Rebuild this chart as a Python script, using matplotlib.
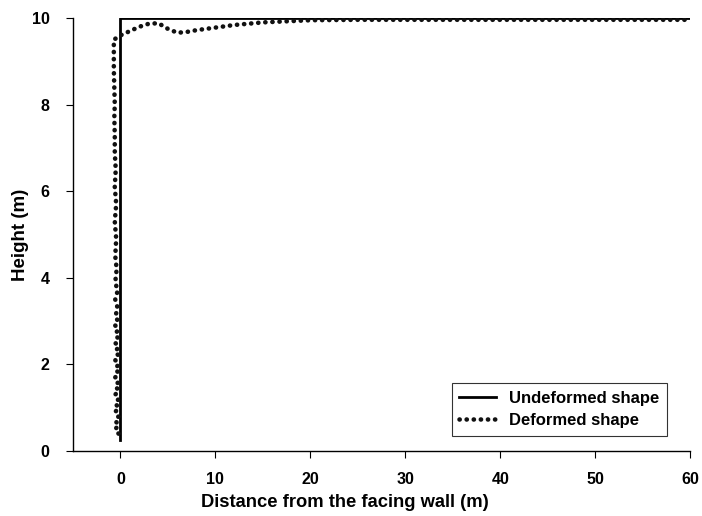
import matplotlib
matplotlib.use("Agg")
import matplotlib.pyplot as plt

plt.rcParams['font.family'] = ['Liberation Sans', 'DejaVu Sans']
plt.rcParams['font.weight'] = 'bold'

# Undeformed shape
undef_x = [0, 0, 60]
undef_y = [0.25, 10, 10]

# Deformed shape (lower part zig-zags densely)
def_x = [-0.2, -0.55, -0.2, -0.55, -0.2, -0.55, -0.2, -0.55, -0.2, -0.55, -0.2, -0.55, -0.2, -0.55,
         -0.2, -0.55, -0.2, -0.55, -0.2, -0.55, -0.2, -0.55, -0.25, -0.55, -0.25, -0.55, -0.25, -0.55,
         -0.3, -0.55, -0.3, -0.55, -0.4, -0.55, -0.45, -0.6, -0.45, -0.6, -0.5, -0.6,
         -0.6, -0.65, -0.6, -0.65, -0.7, -0.7, -0.7,
         0.0, 1.0, 2.0, 3.0, 4.0, 5.0, 6.0, 7.0, 8.0, 10.0, 12.0, 15.0, 18.0, 20.0, 25.0, 30.0, 40.0, 50.0, 60.0]
def_y = [0.4, 0.5, 0.6, 0.7, 0.8, 0.9, 1.0, 1.1, 1.2, 1.3, 1.4, 1.5, 1.6, 1.7,
         1.8, 1.9, 2.0, 2.1, 2.2, 2.3, 2.4, 2.5, 2.6, 2.7, 2.8, 2.9, 3.0, 3.1,
         3.3, 3.5, 3.7, 3.9, 4.2, 4.5, 4.9, 5.3, 5.7, 6.1, 6.5, 6.9,
         7.3, 7.7, 8.0, 8.4, 8.8, 9.2, 9.5,
         9.6, 9.7, 9.8, 9.87, 9.88, 9.75, 9.66, 9.68, 9.72, 9.78, 9.84, 9.9, 9.93, 9.95, 9.96, 9.96, 9.96, 9.96, 9.96]

fig = plt.figure(figsize=(7.02, 5.16), dpi=100)
ax = fig.add_axes([0.104, 0.126, 0.879, 0.839])

ax.plot(undef_x, undef_y, color='black', lw=2.0, label='Undeformed shape')
ax.plot(def_x, def_y, color='#111111', lw=3.3, linestyle=(0, (0.05, 1.5)),
        dash_capstyle='round', label='Deformed shape')

ax.set_xlim(-5, 60)
ax.set_ylim(0, 10)
ax.set_xticks([0, 10, 20, 30, 40, 50, 60])
ax.set_yticks([0, 2, 4, 6, 8, 10])
for s in ['top', 'right']:
    ax.spines[s].set_visible(False)
for s in ['left', 'bottom']:
    ax.spines[s].set_linewidth(1.0)
ax.tick_params(axis='x', direction='out', length=5, width=0.8, labelsize=11.5, pad=10)
ax.tick_params(axis='y', direction='out', length=5, width=0.8, labelsize=11.5, pad=12)
for lab in ax.get_xticklabels() + ax.get_yticklabels():
    lab.set_fontweight('bold')

ax.set_xlabel('Distance from the facing wall (m)', fontsize=13.2, fontweight='bold', labelpad=5)
ax.xaxis.label.set_x(0.44)
ax.set_ylabel('Height (m)', fontsize=13.5, fontweight='bold', labelpad=2)

leg = ax.legend(loc='lower right', bbox_to_anchor=(0.963, 0.035), fontsize=12, frameon=True,
                fancybox=False, edgecolor='black', handlelength=2.2, borderpad=0.45,
                labelspacing=0.45, handletextpad=0.8, borderaxespad=0.0)
leg.get_frame().set_linewidth(0.8)
for t in leg.get_texts():
    t.set_fontweight('bold')

fig.savefig('out.png', dpi=100)
